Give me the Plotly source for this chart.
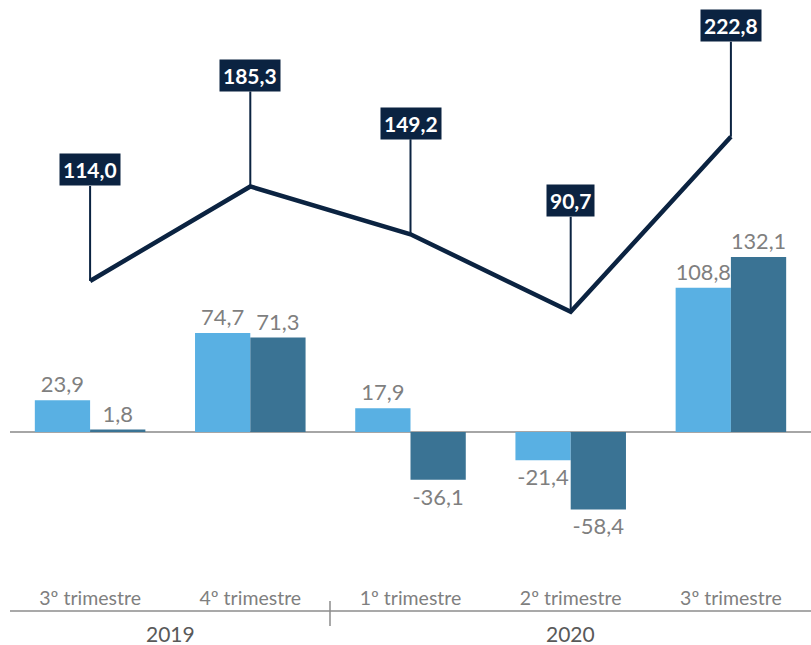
import plotly.graph_objects as go

quarters = ["3º trimestre", "4º trimestre", "1º trimestre", "2º trimestre", "3º trimestre"]
years = ["2019", "2020"]
series_a = [23.9, 74.7, 17.9, -21.4, 108.8]
series_b = [1.8, 71.3, -36.1, -58.4, 132.1]
line_vals = [114.0, 185.3, 149.2, 90.7, 222.8]

x = list(range(len(quarters)))
navy = "#0B2341"
font = "Lato, 'Open Sans', sans-serif"

fig = go.Figure()
fig.add_trace(go.Bar(x=x, y=series_a, marker_color="#59B0E3", marker_line_width=0,
                     texttemplate="%{y:.1f}", textposition="outside", cliponaxis=False,
                     textfont=dict(size=22, color="#7F7F7F", family=font)))
fig.add_trace(go.Bar(x=x, y=series_b, marker_color="#3A7394", marker_line_width=0,
                     texttemplate="%{y:.1f}", textposition="outside", cliponaxis=False,
                     textfont=dict(size=22, color="#7F7F7F", family=font)))
fig.add_trace(go.Scatter(x=x, y=line_vals, mode="lines", line=dict(color=navy, width=4.5),
                         cliponaxis=False))

for xi, v in zip(x, line_vals):
    fig.add_annotation(x=xi, y=v, xref="x", yref="y", text="<b>" + f"{v:.1f}".replace(".", ",") + "</b>",
                       showarrow=True, arrowhead=0, arrowwidth=2, arrowcolor=navy,
                       ax=0, ay=-111, standoff=0, bgcolor=navy, borderpad=3,
                       font=dict(color="white", size=21, family=font))

# year labels and bottom axis line
fig.add_annotation(x=0.5, xref="x", y=-0.091, yref="paper", text=years[0], showarrow=False,
                   yanchor="middle", font=dict(size=21, color="#595959", family=font))
fig.add_annotation(x=3, xref="x", y=-0.091, yref="paper", text=years[1], showarrow=False,
                   yanchor="middle", font=dict(size=21, color="#595959", family=font))
fig.add_shape(type="line", xref="paper", yref="paper", x0=0, x1=1, y0=-0.0492, y1=-0.0492,
              line=dict(color="#8C8C8C", width=1.5))
fig.add_shape(type="line", xref="paper", yref="paper", x0=0.3995, x1=0.3995, y0=-0.031, y1=-0.0765,
              line=dict(color="#8C8C8C", width=1.5))

fig.update_layout(
    width=811, height=645,
    margin=dict(l=10, r=0, t=35, b=61),
    barmode="group", bargap=0.31, bargroupgap=0,
    showlegend=False,
    plot_bgcolor="white", paper_bgcolor="white",
    separators=",.",
    font=dict(family=font),
)
fig.update_xaxes(range=[-0.5, 4.5], tickvals=x, ticktext=quarters, showgrid=False,
                 showline=False, zeroline=False, ticks="",
                 tickfont=dict(size=19.5, color="#7F7F7F", family=font))
fig.update_yaxes(range=[-114.7, 299.6], showgrid=False, showticklabels=False,
                 zeroline=True, zerolinecolor="#A6A6A6", zerolinewidth=2, showline=False)

fig.write_html("out.html", config={"displayModeBar": False},
               post_script="document.body.style.margin='0';document.body.style.overflow='hidden';")
